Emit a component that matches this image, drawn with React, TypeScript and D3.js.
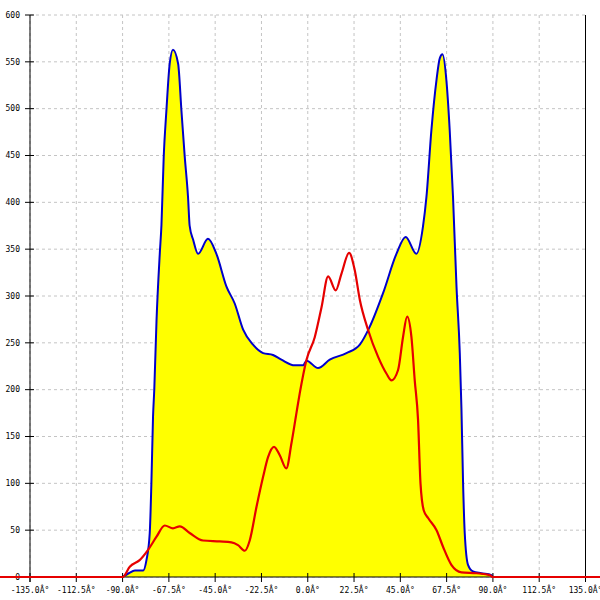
import * as d3 from 'd3';

const xTicks = [-135, -112.5, -90, -67.5, -45, -22.5, 0, 22.5, 45, 67.5, 90, 112.5, 135];
const yTicks = [0, 50, 100, 150, 200, 250, 300, 350, 400, 450, 500, 550, 600];

// blue envelope (filled yellow)
const blueAngles = [
	-90, -87, -84, -80, -78.4, -76.8, -76, -75.2, -74.6, -73.5, -71.9, -71.1, -70, -68.7, -67.1, -65.5,
	-63, -61.4, -59.8, -58.2, -57.4, -55.7, -53.3, -48.5, -44.4, -39.5, -35.5, -31.4, -26.6, -21.7,
	-16.9, -12.8, -6.3, -2.3, -0.6, 5, 10.7, 18.8, 25.3, 30.1, 36.6, 43.1, 47.6, 52.8, 56, 57.7,
	60.1, 62.6, 64.2, 65.5, 67.4, 69, 70.6, 72.3, 73.9, 74.7, 75.5, 76.3, 77.9, 80.3, 84.4, 89.3, 90,
];
const blueValues = [
	0, 4, 7, 7, 18, 47, 100, 171, 200, 274, 346, 376, 449, 498, 548, 563,
	548, 498, 449, 406, 375, 360, 345, 361, 345, 310, 292, 264, 248, 239,
	237, 232, 226, 226, 231, 223, 232, 239, 248, 267, 303, 345, 363, 345, 374, 406,
	477, 531, 554, 558, 530, 477, 406, 310, 239, 180, 100, 47, 13, 6, 4, 2, 0,
];

// red curve
const redAngles = [
	-150, -90, -86.5, -81.7, -77.6, -73.5, -69.5, -65.5, -62.2, -57.4, -50.9, -42.8, -37.1, -33.9,
	-30.6, -28.2, -24.9, -21.7, -19.3, -16.4, -13.6, -10.4, -7.9, -5.5, -3.9, -0.6, 3.4, 6.7, 9.9,
	13.6, 16.4, 20.1, 22.8, 25.3, 29.3, 34.2, 38.3, 40.7, 43.9, 46.3, 48.3, 50.4, 52, 53.6, 54.8,
	56.4, 58.5, 62.6, 65.8, 69.8, 74.7, 82, 88.5, 90, 150,
];
const redValues = [
	0, 0, 11, 18, 29, 43, 55, 52, 54, 47, 39, 38, 37, 34,
	28, 39, 75, 107, 128, 139, 130, 116, 143, 175, 196, 232, 256, 288, 321,
	306, 324, 346, 328, 296, 264, 235, 217, 210, 221, 256, 278, 256, 210, 168, 100,
	71, 63, 50, 32, 13, 5, 4, 2, 0, 0,
];

const W = 600;
const H = 600;
const left = 30;
const right = 585.5;
const top = 15;
const bottom = 577;

const fmtX = (v: number) => `${v.toFixed(1)}Â°`;

export default function App() {
	const x = d3.scaleLinear().domain([-135, 135]).range([left, right]);
	const y = d3.scaleLinear().domain([0, 600]).range([bottom, top]);

	const blue = blueAngles.map((a, i) => [a, blueValues[i]] as [number, number]);
	const red = redAngles.map((a, i) => [a, redValues[i]] as [number, number]);

	const area = d3.area<[number, number]>()
		.x(d => x(d[0]))
		.y0(y(0))
		.y1(d => y(d[1]))
		.curve(d3.curveMonotoneX);
	const line = d3.line<[number, number]>()
		.x(d => x(d[0]))
		.y(d => y(d[1]))
		.curve(d3.curveMonotoneX);

	const font = { fontFamily: '"DejaVu Sans Mono", monospace', fontSize: 8 };

	return (
		<div style={{ position: 'absolute', left: 0, top: 0 }}>
			<svg width={W} height={H} style={{ display: 'block', background: '#fff' }}>
				{/* grid */}
				{xTicks.map(t => (
					<line key={'gx' + t} x1={x(t)} x2={x(t)} y1={top} y2={bottom}
						stroke="#c4c4c4" strokeDasharray="3,3" />
				))}
				{yTicks.map(t => (
					<line key={'gy' + t} x1={left} x2={right} y1={y(t)} y2={y(t)}
						stroke="#c4c4c4" strokeDasharray="3,3" />
				))}

				<path d={area(blue) || ''} fill="#ffff00" />
				<path d={line(blue) || ''} fill="none" stroke="#0000cc" strokeWidth={2} />

				{/* axes */}
				<line x1={left} x2={left} y1={top} y2={bottom + 5} stroke="#000" />
				<line x1={right} x2={right} y1={top} y2={bottom} stroke="#000" />
				<line x1={left} x2={right} y1={bottom} y2={bottom} stroke="#000" />
				{yTicks.map(t => (
					<g key={'ty' + t}>
						<line x1={left - 5} x2={left + 4} y1={y(t)} y2={y(t)} stroke="#000" />
						<text x={20} y={y(t)} dy="0.35em" textAnchor="end" style={font}>{t}</text>
					</g>
				))}
				{xTicks.map(t => (
					<g key={'tx' + t}>
						<line x1={x(t)} x2={x(t)} y1={bottom - 4} y2={bottom + 5} stroke="#000" />
						<text x={x(t)} y={593} textAnchor="middle" style={font}>{fmtX(t)}</text>
					</g>
				))}

				<path d={line(red) || ''} fill="none" stroke="#e60000" strokeWidth={2.2} />
			</svg>
		</div>
	);
}
